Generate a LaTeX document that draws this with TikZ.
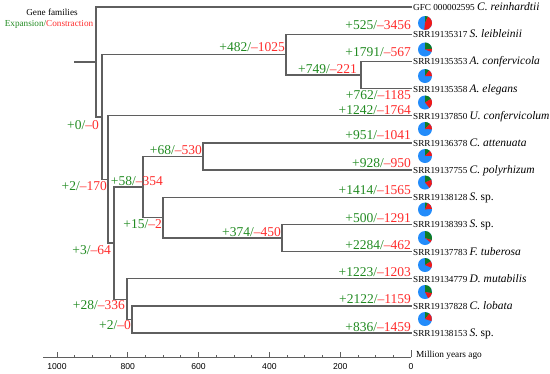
\documentclass[tikz,border=0pt]{standalone}
\usepackage{fontspec}
\setmainfont{Liberation Serif}
\newfontfamily\axfont{Liberation Sans}
\definecolor{expgreen}{RGB}{34,139,34}
\definecolor{conred}{RGB}{255,45,45}
\definecolor{piegreen}{RGB}{15,125,35}
\definecolor{piered}{RGB}{240,25,25}
\definecolor{pieblue}{RGB}{35,140,250}
\definecolor{treegray}{RGB}{95,95,95}
\newcommand{\gc}[2]{\textcolor{expgreen}{+#1/}\textcolor{conred}{\textendash#2}}
\newcommand{\spname}[1]{{\fontsize{11.5}{12}\selectfont\itshape #1}}
\newcommand{\mypie}[3]{%
  \fill[pieblue] (#1) circle[radius=7pt];
  \pgfmathsetmacro\myga{90-#2/7700*360}
  \pgfmathsetmacro\myra{\myga-#3/7700*360}
  \fill[piegreen] (#1) -- ++(90:7pt) arc[start angle=90,end angle=\myga,radius=7pt] -- cycle;
  \fill[piered] (#1) -- ++(\myga:7pt) arc[start angle=\myga,end angle=\myra,radius=7pt] -- cycle;
}
\begin{document}
\begin{tikzpicture}[x=1pt,y=-1pt,
  branch/.style={draw=treegray,line width=1.2pt,line cap=rect},
  lbl/.style={anchor=base east,inner sep=0pt,font=\fontsize{13.5}{14}\selectfont},
  tipname/.style={anchor=base west,inner sep=0pt,font=\fontsize{9.2}{10}\selectfont},
  axlbl/.style={inner sep=0pt,font=\axfont\fontsize{8.6}{9}\selectfont}]
\useasboundingbox (0,0) rectangle (550,373);

% legend
\node[inner sep=0pt,font=\fontsize{9.2}{10}\selectfont] (leg1) at (52,12) {Gene families};
\node[inner sep=0pt,font=\fontsize{9.2}{10}\selectfont] (leg2) at (49,24) {\textcolor{expgreen}{Expansion/}\textcolor{conred}{Constraction}};

% tips
\coordinate (t0) at (411,7);
\coordinate (t1) at (411,34.2);
\coordinate (t2) at (411,61.3);
\coordinate (t3) at (411,88.5);
\coordinate (t4) at (411,115.7);
\coordinate (t5) at (411,142.9);
\coordinate (t6) at (411,170.0);
\coordinate (t7) at (411,197.2);
\coordinate (t8) at (411,224.4);
\coordinate (t9) at (411,251.5);
\coordinate (t10) at (411,278.7);
\coordinate (t11) at (411,305.9);
\coordinate (t12) at (411,333.0);

% internal nodes
\coordinate (root) at (75,62);
\coordinate (A) at (96,62);
\coordinate (B) at (102,116.9);
\coordinate (K) at (286,54.5);
\coordinate (L) at (361,74.9);
\coordinate (C) at (108,179.4);
\coordinate (D) at (114,243);
\coordinate (E) at (143,187);
\coordinate (H) at (203,156.5);
\coordinate (I) at (163,217.6);
\coordinate (J) at (282,238);
\coordinate (F) at (127,299.1);
\coordinate (G) at (132,319.5);

% branches
\draw[branch] (root) -- (A);
\draw[branch] (A) |- (t0);
\draw[branch] (A) |- (B);
\draw[branch] (B) |- (K);
\draw[branch] (B) |- (C);
\draw[branch] (K) |- (t1);
\draw[branch] (K) |- (L);
\draw[branch] (L) |- (t2);
\draw[branch] (L) |- (t3);
\draw[branch] (C) |- (t4);
\draw[branch] (C) |- (D);
\draw[branch] (D) |- (E);
\draw[branch] (D) |- (F);
\draw[branch] (E) |- (H);
\draw[branch] (E) |- (I);
\draw[branch] (H) |- (t5);
\draw[branch] (H) |- (t6);
\draw[branch] (I) |- (t7);
\draw[branch] (I) |- (J);
\draw[branch] (J) |- (t8);
\draw[branch] (J) |- (t9);
\draw[branch] (F) |- (t10);
\draw[branch] (F) |- (G);
\draw[branch] (G) |- (t11);
\draw[branch] (G) |- (t12);

% internal labels
\node[lbl] (lK) at (285,51.5) {\gc{482}{1025}};
\node[lbl] (lL) at (357,73) {\gc{749}{221}};
\node[lbl] (lB) at (99,129.5) {\gc{0}{0}};
\node[lbl] (lC) at (107,190.5) {\gc{2}{170}};
\node[lbl] (lE) at (163,185.5) {\gc{58}{354}};
\node[lbl] (lH) at (202,154.5) {\gc{68}{530}};
\node[lbl] (lI) at (162,228.5) {\gc{15}{2}};
\node[lbl] (lJ) at (281,236.5) {\gc{374}{450}};
\node[lbl] (lD) at (111,254.5) {\gc{3}{64}};
\node[lbl] (lF) at (125,309.5) {\gc{28}{336}};
\node[lbl] (lG) at (131,329.5) {\gc{2}{0}};

% tip labels
\node[lbl] (g1) at (411,29.5) {\gc{525}{3456}};
\node[lbl] (g2) at (411,56.5) {\gc{1791}{567}};
\node[lbl] (g3) at (411,99.5) {\gc{762}{1185}};
\node[lbl] (g4) at (411,114.5) {\gc{1242}{1764}};
\node[lbl] (g5) at (411,139.5) {\gc{951}{1041}};
\node[lbl] (g6) at (411,167.5) {\gc{928}{950}};
\node[lbl] (g7) at (411,194.5) {\gc{1414}{1565}};
\node[lbl] (g8) at (411,222.5) {\gc{500}{1291}};
\node[lbl] (g9) at (411,249.5) {\gc{2284}{462}};
\node[lbl] (g10) at (411,276.5) {\gc{1223}{1203}};
\node[lbl] (g11) at (411,303.5) {\gc{2122}{1159}};
\node[lbl] (g12) at (411,331.5) {\gc{836}{1459}};

% tip names
\node[tipname] (n0) at (413,10.5) {GFC 000002595 \spname{C. reinhardtii}};
\node[tipname] (n1) at (413,37.7) {SRR19135317 \spname{S. leibleinii}};
\node[tipname] (n2) at (413,64.8) {SRR19135353 \spname{A. confervicola}};
\node[tipname] (n3) at (413,92) {SRR19135358 \spname{A. elegans}};
\node[tipname] (n4) at (413,119.2) {SRR19137850 \spname{U. confervicolum}};
\node[tipname] (n5) at (413,146.4) {SRR19136378 \spname{C. attenuata}};
\node[tipname] (n6) at (413,173.5) {SRR19137755 \spname{C. polyrhizum}};
\node[tipname] (n7) at (413,200.7) {SRR19138128 \spname{S.} {\fontsize{11.5}{12}\selectfont sp.}};
\node[tipname] (n8) at (413,227.9) {SRR19138393 \spname{S.} {\fontsize{11.5}{12}\selectfont sp.}};
\node[tipname] (n9) at (413,255) {SRR19137783 \spname{F. tuberosa}};
\node[tipname] (n10) at (413,282.2) {SRR19134779 \spname{D. mutabilis}};
\node[tipname] (n11) at (413,309.4) {SRR19137828 \spname{C. lobata}};
\node[tipname] (n12) at (413,336.5) {SRR19138153 \spname{S.} {\fontsize{11.5}{12}\selectfont sp.}};

% pies
\coordinate (p1) at (425,23);
\coordinate (p2) at (425,49.5);
\coordinate (p3) at (425,76);
\coordinate (p4) at (425,102.5);
\coordinate (p5) at (425,129);
\coordinate (p6) at (425,156);
\coordinate (p7) at (425,182.5);
\coordinate (p8) at (425,209.5);
\coordinate (p9) at (425,238);
\coordinate (p10) at (425,265);
\coordinate (p11) at (425,292);
\coordinate (p12) at (425,319);
\mypie{p1}{525}{3456}
\mypie{p2}{1791}{567}
\mypie{p3}{762}{1185}
\mypie{p4}{1242}{1764}
\mypie{p5}{951}{1041}
\mypie{p6}{928}{950}
\mypie{p7}{1414}{1565}
\mypie{p8}{500}{1291}
\mypie{p9}{2284}{462}
\mypie{p10}{1223}{1203}
\mypie{p11}{2122}{1159}
\mypie{p12}{836}{1459}

% axis
\draw[treegray,line width=0.9pt] (43,357) -- (411,357);
\foreach \m in {50,100,...,950} \draw[treegray,line width=0.8pt] ({411-0.354*\m},357) -- ++(0,-2.5);
\foreach \m in {200,400,...,1000} \draw[treegray,line width=0.8pt] ({411-0.354*\m},357) -- ++(0,-5);
\draw[treegray,line width=0.8pt] (411,357) -- (411,350);
\foreach \m in {0,200,...,1000} \node[axlbl] at ({411-0.354*\m},366.5) {\m};
\node[anchor=west,inner sep=0pt,font=\fontsize{9.3}{10}\selectfont] (axt) at (416,355) {Million years ago};
\end{tikzpicture}
\end{document}
